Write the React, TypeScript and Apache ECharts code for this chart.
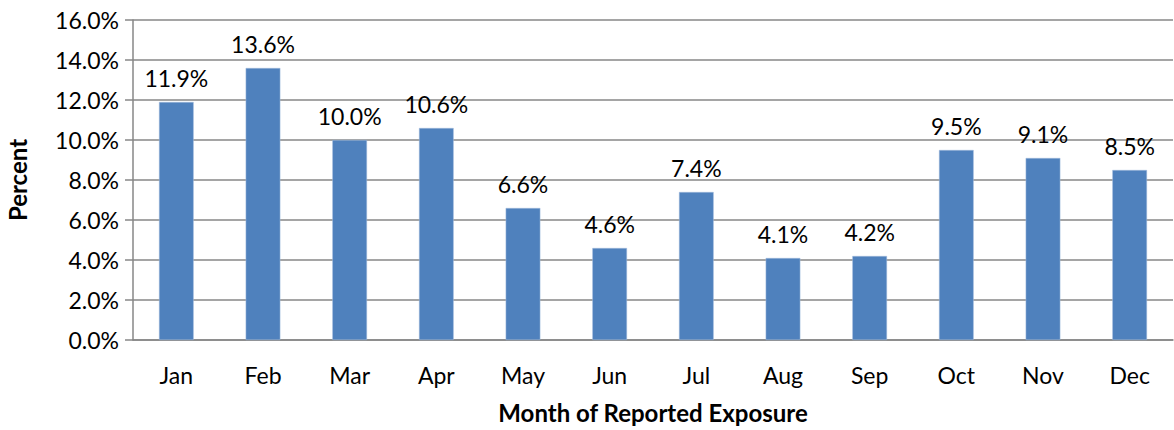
import React, { useEffect, useRef } from "react";
import * as echarts from "echarts";

const months = ["Jan", "Feb", "Mar", "Apr", "May", "Jun", "Jul", "Aug", "Sep", "Oct", "Nov", "Dec"];
const percentValues = [11.9, 13.6, 10.0, 10.6, 6.6, 4.6, 7.4, 4.1, 4.2, 9.5, 9.1, 8.5];
const yMin = 0;
const yMax = 16;
const yStep = 2;

const FONT = "Lato, 'Open Sans', sans-serif";

export default function App() {
  const ref = useRef<HTMLDivElement>(null);
  useEffect(() => {
    if (!ref.current) return;
    const chart = echarts.init(ref.current, undefined, { renderer: "svg" });
    chart.setOption({
      animation: false,
      textStyle: { fontFamily: FONT },
      grid: {
        left: 133,
        right: 1,
        top: 20,
        bottom: 90,
        containLabel: false,
        outerBoundsMode: "none",
      },
      xAxis: {
        type: "category",
        data: months,
        axisLine: { show: true, lineStyle: { color: "#878787", width: 1.5 } },
        axisTick: { show: false },
        axisLabel: { color: "#000", fontSize: 23, margin: 23, fontFamily: FONT },
        name: "Month of Reported Exposure",
        nameLocation: "middle",
        nameGap: 60,
        nameTextStyle: { color: "#000", fontSize: 24, fontWeight: "bold", fontFamily: FONT },
      },
      yAxis: {
        type: "value",
        min: yMin,
        max: yMax,
        interval: yStep,
        axisLine: { show: true, lineStyle: { color: "#878787", width: 1.5 } },
        axisTick: { show: true, length: 8, lineStyle: { color: "#878787", width: 1.5 } },
        splitLine: { show: true, lineStyle: { color: "#878787", width: 1.5 } },
        axisLabel: {
          color: "#000",
          fontSize: 23,
          margin: 14,
          fontFamily: FONT,
          formatter: (v: number) => v.toFixed(1) + "%",
        },
        name: "Percent",
        nameLocation: "middle",
        nameGap: 104,
        nameRotate: 90,
        nameTextStyle: { color: "#000", fontSize: 24, fontWeight: "bold", fontFamily: FONT },
      },
      series: [
        {
          type: "bar",
          data: percentValues,
          barWidth: "40%",
          itemStyle: { color: "#4F81BD", borderColor: "#A7BFDE", borderWidth: 0.5 },
          label: {
            show: true,
            position: "top",
            distance: 13,
            color: "#000",
            fontSize: 23,
            fontFamily: FONT,
            formatter: (p: any) => Number(p.value).toFixed(1) + "%",
          },
        },
      ],
    });
    return () => chart.dispose();
  }, []);
  return (
    <div
      ref={ref}
      style={{ position: "fixed", left: 0, top: 0, width: 1174, height: 430, background: "#fff" }}
    />
  );
}
